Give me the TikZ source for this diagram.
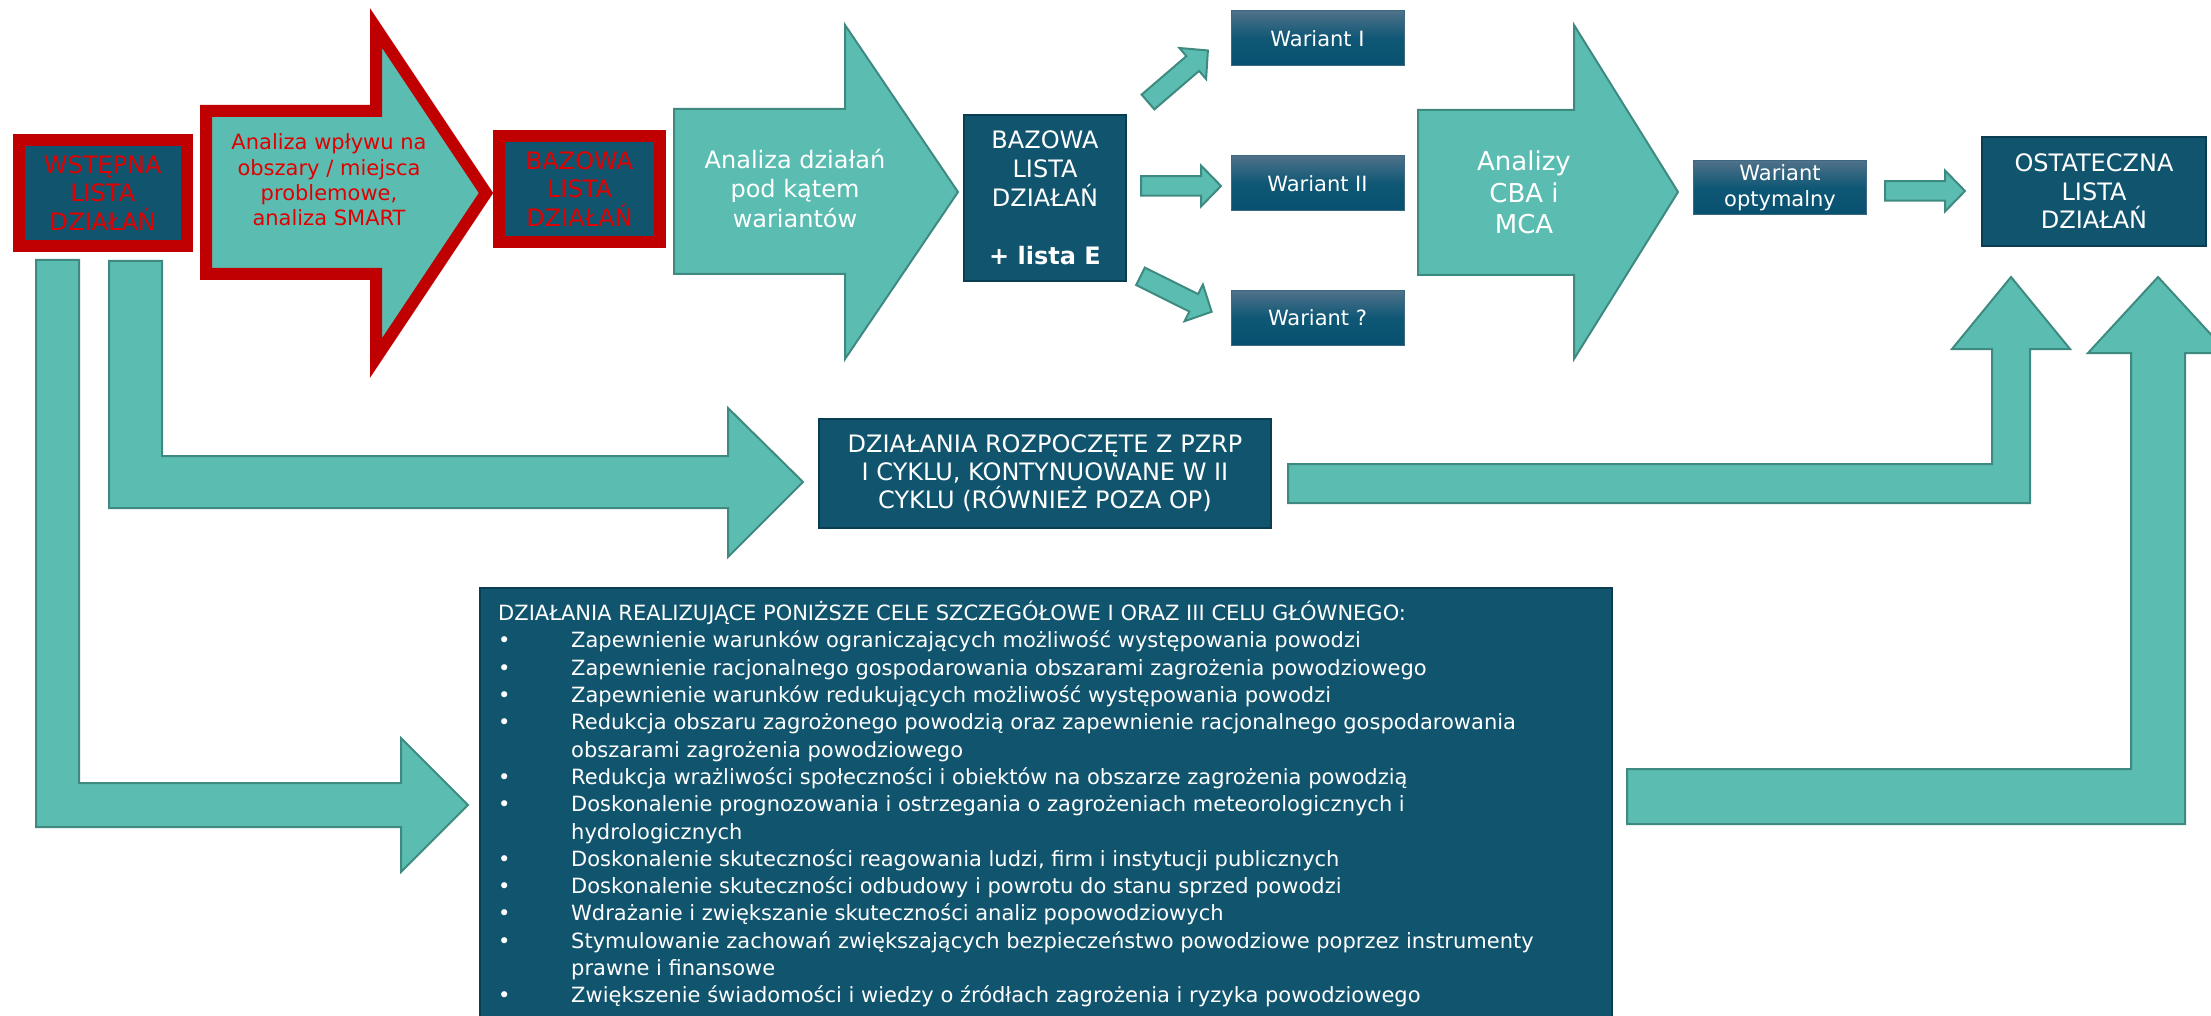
\documentclass[tikz,border=0pt]{standalone}
\usepackage{fontspec}
\setmainfont{DejaVu Sans}
\definecolor{tealf}{HTML}{5BBDB2}
\definecolor{tealedge}{HTML}{3F8A80}
\definecolor{navy}{HTML}{10546E}
\definecolor{navyedge}{HTML}{0B3D52}
\definecolor{redb}{HTML}{C00000}
\definecolor{redt}{HTML}{E00000}
\definecolor{wtop}{HTML}{4F7189}
\definecolor{wmid}{HTML}{0E5775}
\definecolor{wbot}{HTML}{08506F}
\newcommand{\smallblockarrow}[3]{%
  \draw[tealshape, shift={#1}, rotate=#2] (0,-9.75) -- (#3-20,-9.75) -- (#3-20,-20.5) -- (#3,0) -- (#3-20,20.5) -- (#3-20,9.75) -- (0,9.75) -- cycle;}
\begin{document}
\begin{tikzpicture}[x=1pt,y=-1pt,
  tealshape/.style={fill=tealf, draw=tealedge, line width=2pt, line join=miter},
  navybox/.style={fill=navy, draw=navyedge, line width=2pt, text=white, align=center, inner sep=0pt},
  redbox/.style={fill=navy, draw=redb, line width=12pt, text=redt, align=center, inner sep=0pt, font=\fontsize{24pt}{28.5pt}\selectfont},
  wariantbox/.style={top color=wtop, bottom color=wbot, middle color=wmid, draw=wtop!70!navy, line width=1pt, text=white, align=center, inner sep=0pt, font=\fontsize{21pt}{26pt}\selectfont},
  arrowtext/.style={align=center, inner sep=0pt}
]
\useasboundingbox (0,0) rectangle (2211,1016);
\clip (0,0) rectangle (2211,1016);

% L-shaped arrows on the left
\draw[tealshape] (36,260) -- (79,260) -- (79,783) -- (401,783) -- (401,738) -- (468,805) -- (401,872) -- (401,827) -- (36,827) -- cycle;
\draw[tealshape] (109,261) -- (162,261) -- (162,456) -- (728,456) -- (728,408) -- (803,482) -- (728,557) -- (728,508) -- (109,508) -- cycle;

% Up arrows on the right
\draw[tealshape] (1288,464) -- (1992,464) -- (1992,349) -- (1952,349) -- (2011,277) -- (2070,349) -- (2030,349) -- (2030,503) -- (1288,503) -- cycle;
\draw[tealshape] (1627,769) -- (2131,769) -- (2131,353) -- (2088,353) -- (2158,277) -- (2228,353) -- (2185,353) -- (2185,824) -- (1627,824) -- cycle;

% Big arrows in the top row
\draw[fill=tealf, draw=redb, line width=12pt, line join=miter] (206,111) -- (376,111) -- (376,28) -- (486,193) -- (376,358) -- (376,274) -- (206,274) -- cycle;
\draw[tealshape] (674,109) -- (845,109) -- (845,25) -- (958,192) -- (845,359) -- (845,274) -- (674,274) -- cycle;
\draw[tealshape] (1418,110) -- (1574,110) -- (1574,25) -- (1678,192) -- (1574,359) -- (1574,275) -- (1418,275) -- cycle;

% small arrows
\smallblockarrow{(1148,102)}{40.7}{79}
\smallblockarrow{(1141,186)}{0}{80}
\smallblockarrow{(1140.5,276.3)}{-26.5}{79.5}
\smallblockarrow{(1885,191)}{0}{80}

% arrow texts
\node[arrowtext, text=redt, font=\fontsize{21pt}{25.3pt}\selectfont] (twplyw) at (329,180) {Analiza wpływu na\\obszary / miejsca\\problemowe,\\analiza SMART};
\node[arrowtext, text=white, font=\fontsize{24pt}{29.5pt}\selectfont] (tdzial) at (795,188.5) {Analiza działań\\pod kątem\\wariantów};
\node[arrowtext, text=white, font=\fontsize{26pt}{31.5pt}\selectfont] (tcba) at (1524,192.5) {Analizy\\CBA i\\MCA};

% boxes
\node[redbox, minimum width=168.5pt, minimum height=106pt] (wst) at (102.75,193) {WSTĘPNA\\LISTA\\DZIAŁAŃ};
\node[redbox, minimum width=161pt, minimum height=106pt] (bazred) at (579.5,189) {BAZOWA\\LISTA\\DZIAŁAŃ};
\node[navybox, minimum width=162pt, minimum height=166pt, font=\fontsize{24pt}{29pt}\selectfont] (baze) at (1045,198) {BAZOWA\\LISTA\\DZIAŁAŃ\\[29pt]\textbf{+ lista E}};
\node[wariantbox, minimum width=173pt, minimum height=55pt] (w1) at (1317.5,38.5) {Wariant I};
\node[wariantbox, minimum width=173pt, minimum height=55pt] (w2) at (1317.5,183.5) {Wariant II};
\node[wariantbox, minimum width=173pt, minimum height=54pt] (w3) at (1317.5,318) {Wariant ?};
\node[wariantbox, minimum width=172.5pt, minimum height=54pt] (wopt) at (1780,188) {Wariant\\optymalny};
\node[navybox, minimum width=224pt, minimum height=109pt, font=\fontsize{24pt}{28.5pt}\selectfont] (ost) at (2094,191.5) {OSTATECZNA\\LISTA\\DZIAŁAŃ};
\node[navybox, minimum width=452pt, minimum height=109pt, font=\fontsize{24pt}{28pt}\selectfont] (dzr) at (1045,473.5) {DZIAŁANIA ROZPOCZĘTE Z PZRP\\I CYKLU, KONTYNUOWANE W II\\CYKLU (RÓWNIEŻ POZA OP)};
\node[navybox, anchor=north west, minimum width=1132pt, minimum height=440pt] (big) at (479,587) {};
\node[anchor=north west, inner sep=0pt, text=white, align=left, font=\fontsize{21pt}{27.3pt}\selectfont] (bigtext) at (498,601) {%
DZIAŁANIA REALIZUJĄCE PONIŻSZE CELE SZCZEGÓŁOWE I ORAZ III CELU GŁÓWNEGO:\\
\makebox[73pt][l]{•}Zapewnienie warunków ograniczających możliwość występowania powodzi\\
\makebox[73pt][l]{•}Zapewnienie racjonalnego gospodarowania obszarami zagrożenia powodziowego\\
\makebox[73pt][l]{•}Zapewnienie warunków redukujących możliwość występowania powodzi\\
\makebox[73pt][l]{•}Redukcja obszaru zagrożonego powodzią oraz zapewnienie racjonalnego gospodarowania\\
\hspace*{73pt}obszarami zagrożenia powodziowego\\
\makebox[73pt][l]{•}Redukcja wrażliwości społeczności i obiektów na obszarze zagrożenia powodzią\\
\makebox[73pt][l]{•}Doskonalenie prognozowania i ostrzegania o zagrożeniach meteorologicznych i\\
\hspace*{73pt}hydrologicznych\\
\makebox[73pt][l]{•}Doskonalenie skuteczności reagowania ludzi, firm i instytucji publicznych\\
\makebox[73pt][l]{•}Doskonalenie skuteczności odbudowy i powrotu do stanu sprzed powodzi\\
\makebox[73pt][l]{•}Wdrażanie i zwiększanie skuteczności analiz popowodziowych\\
\makebox[73pt][l]{•}Stymulowanie zachowań zwiększających bezpieczeństwo powodziowe poprzez instrumenty\\
\hspace*{73pt}prawne i finansowe\\
\makebox[73pt][l]{•}Zwiększenie świadomości i wiedzy o źródłach zagrożenia i ryzyka powodziowego};
\end{tikzpicture}
\end{document}
